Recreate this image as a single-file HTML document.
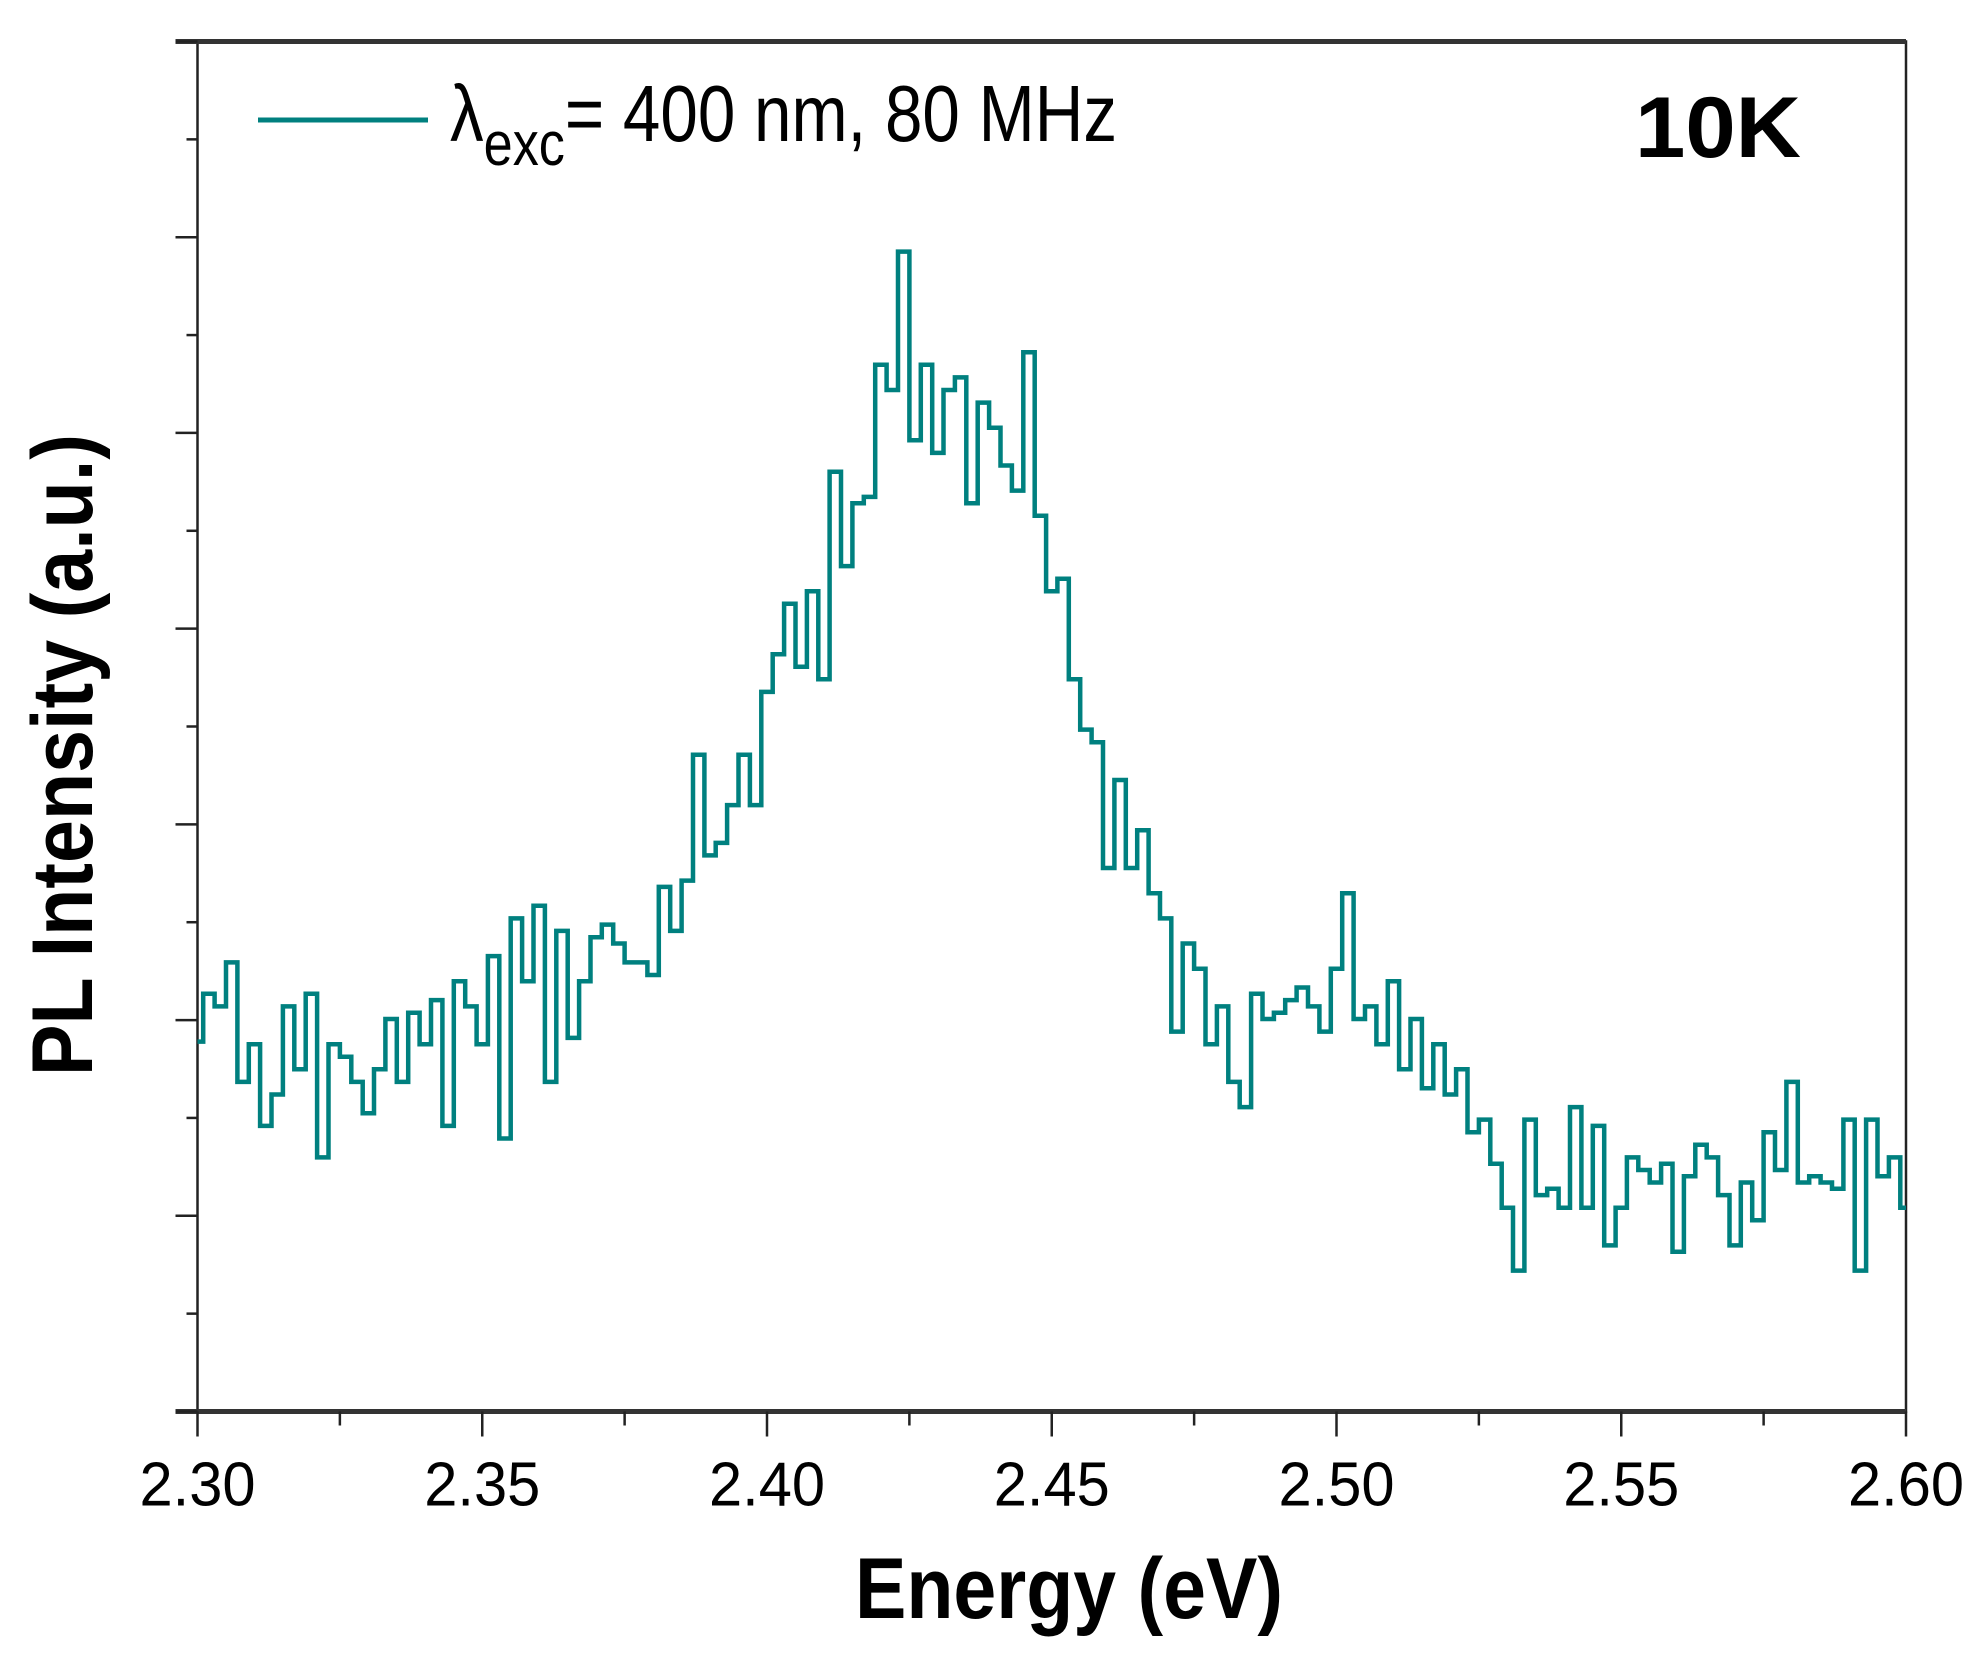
<!DOCTYPE html>
<html><head><meta charset="utf-8"><style>
html,body{margin:0;padding:0;background:#fff;}
svg{display:block;font-family:"Liberation Sans",Arial,sans-serif;}
</style></head><body>
<svg id="chart" width="1973" height="1654" viewBox="0 0 1973 1654" xmlns="http://www.w3.org/2000/svg">
<g id="axes"></g>
<path id="series" fill="none" stroke="#00807f" stroke-width="4.5" stroke-linejoin="miter"/>
<g>
<line x1="258" y1="120" x2="428" y2="120" stroke="#00807f" stroke-width="5"/>
<text x="450" y="141" font-size="80" textLength="667" lengthAdjust="spacingAndGlyphs">λ<tspan font-size="62" dy="24">exc</tspan><tspan dy="-24">= 400 nm, 80 MHz</tspan></text>
</g>
<text x="1635" y="157" font-size="86" font-weight="bold" textLength="166" lengthAdjust="spacingAndGlyphs">10K</text>
<text x="855" y="1618" font-size="86" font-weight="bold" textLength="428" lengthAdjust="spacingAndGlyphs">Energy (eV)</text>
<text transform="translate(92,1076) rotate(-90)" font-size="86" font-weight="bold" textLength="642" lengthAdjust="spacingAndGlyphs">PL Intensity (a.u.)</text>
</svg>
<script>
const energies = [];
for (let i = 0; i <= 150; i++) energies.push(+(2.30 + i * 0.002).toFixed(3));
const intensities = [294,332,322,357,262,292,227,252,322,272,332,202,292,282,262,237,272,312,262,317,292,327,227,342,322,292,362,217,392,342,402,262,382,297,342,377,387,372,357,357,347,417,382,422,522,442,452,482,522,482,572,602,642,592,652,582,747,672,722,727,832,812,922,772,832,762,812,822,722,802,782,752,732,842,712,652,662,582,542,532,432,502,432,462,412,392,302,372,352,292,322,262,242,332,312,317,327,337,322,302,352,412,312,322,292,342,272,312,257,292,252,272,222,232,197,162,112,232,172,177,162,242,162,227,132,162,202,192,182,197,127,187,212,202,172,132,182,152,222,192,262,182,187,182,177,232,112,232,187,202,162];
const xTickLabels = ["2.30","2.35","2.40","2.45","2.50","2.55","2.60"];
const xTickValues = [2.30,2.35,2.40,2.45,2.50,2.55,2.60];
const yDomain = [0, 1089];
const xDomain = [2.30, 2.60];

const L = 197.5, R = 1906, T = 41.5, B = 1411.5;
const sx = v => L + (v - xDomain[0]) / (xDomain[1] - xDomain[0]) * (R - L);
const sy = v => B - (v - yDomain[0]) / (yDomain[1] - yDomain[0]) * (B - T);
const NS = "http://www.w3.org/2000/svg";
const axes = document.getElementById('axes');
function mk(tag, attrs) {
  const e = document.createElementNS(NS, tag);
  for (const k in attrs) e.setAttribute(k, attrs[k]);
  return e;
}
const frame = mk('rect', {x: L, y: T, width: R - L, height: B - T, fill: 'none', stroke: '#222', 'stroke-width': 2.5});


axes.appendChild(frame);
const topLine = mk('line', {x1: L - 22, y1: T, x2: R, y2: T, stroke: '#333', 'stroke-width': 5});


axes.appendChild(topLine);
const botLine = mk('line', {x1: L - 22, y1: B, x2: R, y2: B, stroke: '#333', 'stroke-width': 5});


axes.appendChild(botLine);
for (let i = 0; i < xTickValues.length; i++) {
  const x = sx(xTickValues[i]);
  const t = mk('line', {x1: x, y1: B, x2: x, y2: B + 25, stroke: '#222', 'stroke-width': 2.5});
  
  
  axes.appendChild(t);
  const lb = mk('text', {x: x, y: B + 94, 'font-size': 62, 'text-anchor': 'middle', textLength: 116, lengthAdjust: 'spacingAndGlyphs'});
  lb.textContent = xTickLabels[i];
  
  
  axes.appendChild(lb);
  if (i < xTickValues.length - 1) {
    const xm = sx((xTickValues[i] + xTickValues[i + 1]) / 2);
    const m = mk('line', {x1: xm, y1: B, x2: xm, y2: B + 14, stroke: '#222', 'stroke-width': 2.5});
    
    
    axes.appendChild(m);
  }
}
const nY = 7;
for (let i = 0; i <= nY; i++) {
  const y = B - i * (B - T) / nY;
  const t = mk('line', {x1: L - 22, y1: y, x2: L, y2: y, stroke: '#222', 'stroke-width': 2.5});
  
  
  axes.appendChild(t);
  if (i < nY) {
    const ym = y - (B - T) / nY / 2;
    const m = mk('line', {x1: L - 11, y1: ym, x2: L, y2: ym, stroke: '#222', 'stroke-width': 2.5});
    
    
    axes.appendChild(m);
  }
}
let d = '';
const n = Math.min(energies.length, intensities.length);
for (let i = 0; i < n; i++) {
  const x = sx(energies[i]), y = sy(intensities[i]);
  if (i === 0) { d += 'M' + x.toFixed(1) + ',' + y.toFixed(1); continue; }
  const xm = (sx(energies[i - 1]) + x) / 2;
  d += 'H' + xm.toFixed(1) + 'V' + y.toFixed(1);
  if (i === n - 1) d += 'H' + x.toFixed(1);
}
document.getElementById('series').setAttribute('d', d);
</script>
</body></html>
